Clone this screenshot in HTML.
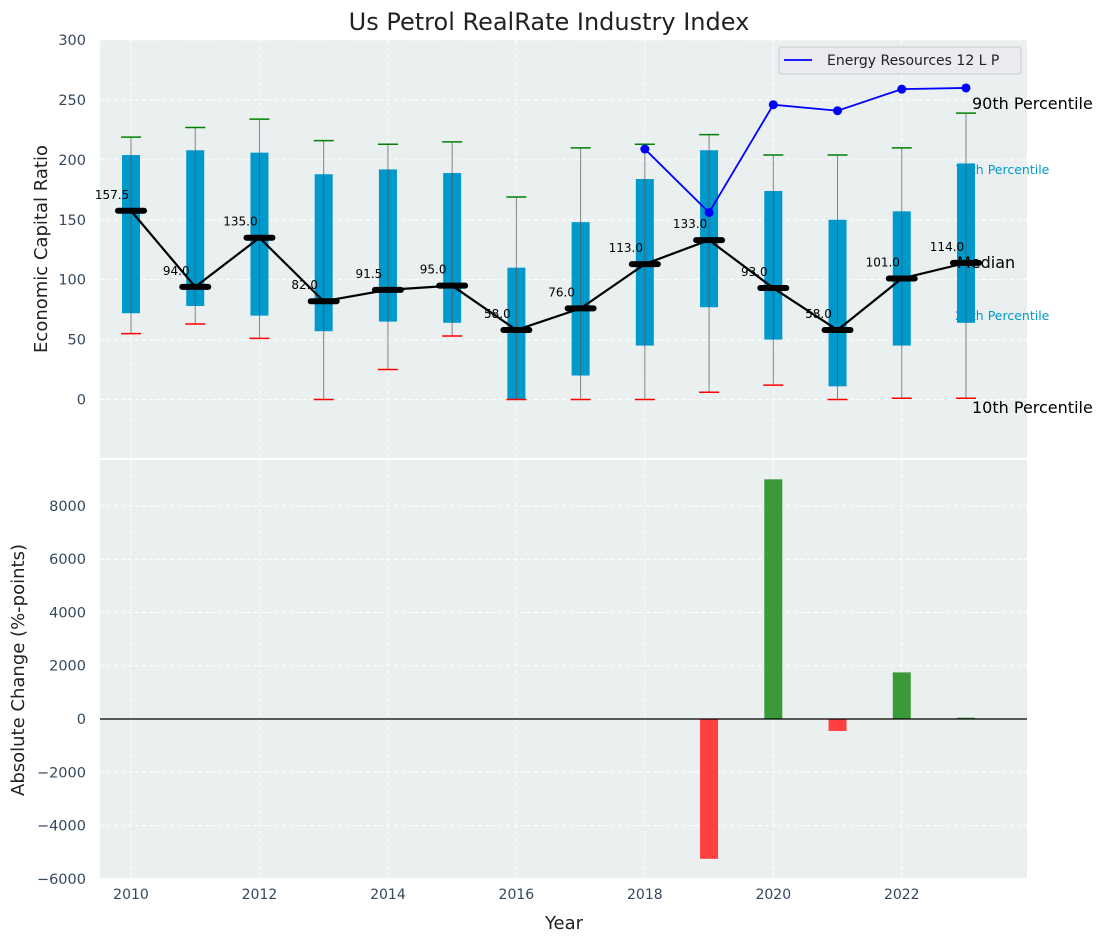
<!DOCTYPE html>
<html><head><meta charset="utf-8"><style>
body{margin:0;background:#fff;font-family:"Liberation Sans","DejaVu Sans",sans-serif}
</style></head><body>
<svg id="c" width="1107" height="942" xmlns="http://www.w3.org/2000/svg" font-family="DejaVu Sans, Liberation Sans, sans-serif"></svg>
<script>
const years=[2010,2011,2012,2013,2014,2015,2016,2017,2018,2019,2020,2021,2022,2023];
const p10=[55,63,51,0,25,53,0,0,0,6,12,0,1,1];
const q1=[72,78,70,57,65,64,0,20,45,77,50,11,45,64];
const med=[157.5,94,135,82,91.5,95,58,76,113,133,93,58,101,114];
const q3=[204,208,206,188,192,189,110,148,184,208,174,150,157,197];
const p90=[219,227,234,216,213,215,169,210,213,221,204,204,210,239];
const energyYears=[2018,2019,2020,2021,2022,2023];
const energyVals=[209,156,246,241,259,260];
const chgYears=[2019,2020,2021,2022,2023];
const chgVals=[-5250,9000,-450,1750,50];
const topTicks=[0,50,100,150,200,250,300];
const botTicks=[-6000,-4000,-2000,0,2000,4000,6000,8000];
const xTicks=[2010,2012,2014,2016,2018,2020,2022];

const svg=document.getElementById('c');const NS='http://www.w3.org/2000/svg';
function el(t,a,p){const e=document.createElementNS(NS,t);for(const k in a)e.setAttribute(k,a[k]);(p||svg).appendChild(e);return e;}
function tx(s,a,p){const e=el('text',a,p);e.textContent=s;return e;}
const L=100,R=1027,T1=40,B1=458,T2=460,B2=878;
const x=v=>131+(v-2010)*64.23;
const y1=v=>399.5-v*1.1983;
const y2=v=>719-v*0.02663;

let e;
e=el('rect',{x:L,y:T1,width:R-L,height:B1-T1,fill:'#eaeff0'});

e=el('rect',{x:L,y:T2,width:R-L,height:B2-T2,fill:'#eaeff0'});

xTicks.forEach(v=>{el('line',{x1:x(v),x2:x(v),y1:T1,y2:B1,stroke:'#fff','stroke-dasharray':'4,3'});el('line',{x1:x(v),x2:x(v),y1:T2,y2:B2,stroke:'#fff','stroke-dasharray':'4,3'});
 e=tx(v,{x:x(v),y:899,'text-anchor':'middle','font-size':14,fill:'#34495e'});});
topTicks.forEach(v=>{el('line',{x1:L,x2:R,y1:y1(v),y2:y1(v),stroke:'#fff','stroke-dasharray':'4,3'});
 e=tx(v,{x:86,y:y1(v)+5,'text-anchor':'end','font-size':14.5,fill:'#34495e'});});
botTicks.forEach(v=>{el('line',{x1:L,x2:R,y1:y2(v),y2:y2(v),stroke:'#fff','stroke-dasharray':'4,3'});
 e=tx(v<0?'\u2212'+(-v):v,{x:86,y:y2(v)+5,'text-anchor':'end','font-size':14.5,fill:'#34495e'});});
// annotations underneath boxes
e=tx('75th Percentile',{x:955,y:174,'font-size':12.5,fill:'#0099cc'});
e=tx('25th Percentile',{x:955,y:320,'font-size':12.5,fill:'#0099cc'});
years.forEach((yr,i)=>{const cx=x(yr);
 e=el('rect',{x:cx-9,y:y1(q3[i]),width:18,height:y1(q1[i])-y1(q3[i]),fill:'#0099cc'});
 e=el('line',{x1:cx,x2:cx,y1:y1(p90[i]),y2:y1(p10[i]),stroke:'#555','stroke-width':1,opacity:0.7});
 e=el('line',{x1:cx-10,x2:cx+10,y1:y1(p90[i]),y2:y1(p90[i]),stroke:'green','stroke-width':1.5});
 e=el('line',{x1:cx-10,x2:cx+10,y1:y1(p10[i]),y2:y1(p10[i]),stroke:'red','stroke-width':1.5});
});
e=el('polyline',{points:years.map((yr,i)=>x(yr)+','+y1(med[i])).join(' '),fill:'none',stroke:'#000','stroke-width':2.2});

years.forEach((yr,i)=>{const cx=x(yr);
 e=el('line',{x1:cx-13,x2:cx+13,y1:y1(med[i]),y2:y1(med[i]),stroke:'#000','stroke-width':6,'stroke-linecap':'round'});
 e=tx(med[i].toFixed(1),{x:cx-19,y:y1(med[i])-12,'text-anchor':'middle','font-size':12,fill:'#000'});
});
e=el('polyline',{points:energyYears.map((yr,i)=>x(yr)+','+y1(energyVals[i])).join(' '),fill:'none',stroke:'blue','stroke-width':1.8});

energyYears.forEach((yr,i)=>{e=el('circle',{cx:x(yr),cy:y1(energyVals[i]),r:4.5,fill:'blue'});});
e=tx('90th Percentile',{x:972,y:109,'font-size':16,fill:'#000'});
e=tx('Median',{x:957,y:268,'font-size':16,fill:'#000'});
e=tx('10th Percentile',{x:972,y:413,'font-size':16,fill:'#000'});
const lg=el('g',{});
el('rect',{x:779,y:47,width:242,height:27,rx:3,fill:'#eaeaf0',stroke:'#ccc'},lg);
el('line',{x1:784,x2:812,y1:60,y2:60,stroke:'blue','stroke-width':1.8},lg);
tx('Energy Resources 12 L P',{x:827,y:65,'font-size':14,fill:'#222'},lg);
chgYears.forEach((yr,i)=>{const v=chgVals[i];const a=y2(Math.max(v,0)),b=y2(Math.min(v,0));
 e=el('rect',{x:x(yr)-9,y:a,width:18,height:Math.max(b-a,1),fill:v>=0?'#3a9a3a':'#ff4040'});});
el('line',{x1:L,x2:R,y1:y2(0),y2:y2(0),stroke:'#000','stroke-width':1.2});
e=tx('Us Petrol RealRate Industry Index',{x:549,y:30,'text-anchor':'middle','font-size':24,fill:'#222'});
e=tx('Economic Capital Ratio',{x:0,y:0,'text-anchor':'middle','font-size':18,fill:'#222',transform:'translate(47,249) rotate(-90)'});
e=tx('Absolute Change (%-points)',{x:0,y:0,'text-anchor':'middle','font-size':18,fill:'#222',transform:'translate(24,670) rotate(-90)'});
e=tx('Year',{x:564,y:929,'text-anchor':'middle','font-size':18,fill:'#222'});
</script>
</body></html>
